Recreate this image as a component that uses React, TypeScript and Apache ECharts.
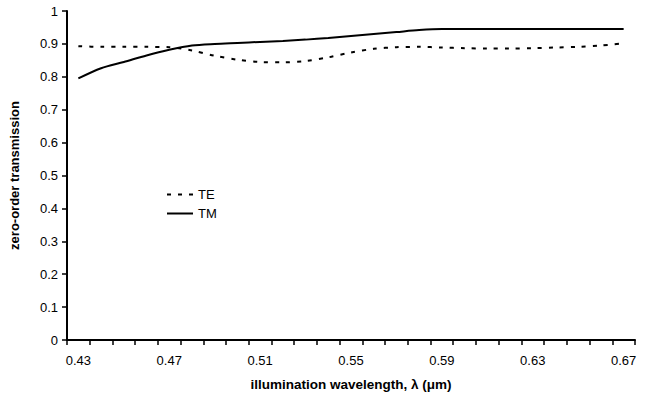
import React, { useEffect, useRef } from "react";
import * as echarts from "echarts";

const categories = ["0.43","0.44","0.45","0.46","0.47","0.48","0.49","0.50","0.51","0.52","0.53","0.54","0.55","0.56","0.57","0.58","0.59","0.60","0.61","0.62","0.63","0.64","0.65","0.66","0.67"];
const teValues = [0.893,0.891,0.891,0.891,0.890,0.880,0.864,0.852,0.845,0.844,0.848,0.859,0.874,0.885,0.890,0.891,0.889,0.887,0.886,0.886,0.887,0.889,0.891,0.895,0.902];
const tmValues = [0.795,0.826,0.845,0.865,0.882,0.895,0.900,0.903,0.906,0.909,0.913,0.918,0.924,0.930,0.936,0.942,0.945,0.945,0.945,0.945,0.945,0.945,0.945,0.945,0.945];

export default function App() {
  const ref = useRef<HTMLDivElement>(null);
  useEffect(() => {
    const chart = echarts.init(ref.current!, null, { renderer: "svg" });
    const font = "Liberation Sans, Arial, sans-serif";
    chart.setOption({
      animation: false,
      backgroundColor: "#fff",
      grid: { left: 63, right: 10, top: 11, bottom: 56, containLabel: false },
      legend: {
        orient: "vertical",
        left: 161,
        top: 183,
        itemWidth: 26,
        itemHeight: 12,
        itemGap: 6,
        itemStyle: { opacity: 0 },
        textStyle: { fontFamily: font, fontSize: 13, color: "#000", padding: [0, 0, 0, 0] },
        data: [{ name: "TE" }, { name: "TM" }],
      },
      xAxis: {
        type: "category",
        data: categories,
        boundaryGap: true,
        name: "illumination wavelength, λ (μm)",
        nameLocation: "middle",
        nameGap: 37,
        nameTextStyle: { fontFamily: font, fontSize: 13.5, fontWeight: "bold", color: "#000" },
        axisLine: { lineStyle: { color: "#000", width: 2 } },
        axisTick: { show: true, interval: 0, length: 5, lineStyle: { color: "#000", width: 1.5 } },
        axisLabel: { interval: 3, fontFamily: font, fontSize: 13, color: "#000", margin: 14 },
        splitLine: { show: false },
      },
      yAxis: {
        type: "value",
        min: 0,
        max: 1,
        interval: 0.1,
        name: "zero-order transmission",
        nameLocation: "middle",
        nameGap: 46,
        nameRotate: 90,
        nameTextStyle: { fontFamily: font, fontSize: 13, fontWeight: "bold", color: "#000" },
        axisLine: { show: true, lineStyle: { color: "#000", width: 2 } },
        axisTick: { show: true, length: 5, lineStyle: { color: "#000", width: 1.5 } },
        axisLabel: {
          fontFamily: font, fontSize: 13, color: "#000", margin: 9,
          formatter: (v: number) => (Math.round(v * 10) / 10).toString(),
        },
        splitLine: { show: false },
      },
      series: [
        {
          name: "TE",
          type: "line",
          data: teValues,
          smooth: 0.3,
          symbol: "none",
          lineStyle: { color: "#000", width: 2, type: [4, 7] },
          itemStyle: { color: "#000" },
        },
        {
          name: "TM",
          type: "line",
          data: tmValues,
          smooth: 0.3,
          symbol: "none",
          lineStyle: { color: "#000", width: 2 },
          itemStyle: { color: "#000" },
        },
      ],
    });
    return () => chart.dispose();
  }, []);
  return (
    <div
      ref={ref}
      style={{ position: "fixed", left: 0, top: 0, width: 645, height: 396, background: "#fff" }}
    />
  );
}
